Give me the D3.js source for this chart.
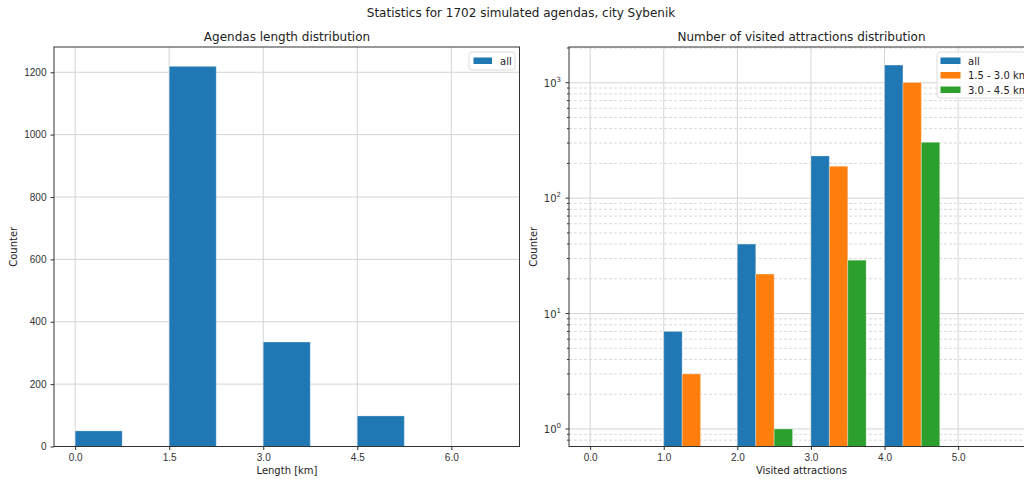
<!DOCTYPE html>
<html>
<head>
<meta charset="utf-8">
<script src="https://cdn.jsdelivr.net/npm/d3@7"></script>
<style>
  body { margin: 0; background: #fff; }
  svg { font-family: 'DejaVu Sans', sans-serif; display: block; }
  .grid line { stroke: #d4d4d4; stroke-width: 1; }
  .minor line { stroke: #d9d9d9; stroke-width: 1; stroke-dasharray: 3, 2; }
  .axis text { fill: #333; font-size: 10px; }
  .axis path, .axis line { stroke: #333; }
</style>
</head>
<body>
<svg id="chart" width="1024" height="479"></svg>
<script>
// left panel: agendas length histogram
var lengthBins = [0, 1.5, 3.0, 4.5, 6.0];
var lengthCounts = [50, 1219, 335, 98, 0];
var lengthTicks = [0, 1.5, 3.0, 4.5, 6.0];
var countTicks = [0, 200, 400, 600, 800, 1000, 1200];

// right panel: visited attractions per group
var visited = [0, 1, 2, 3, 4, 5];
var seriesNames = ['all', '1.5 - 3.0 km', '3.0 - 4.5 km'];
var allCounts = [0, 7, 40, 232, 1423, 0];
var midCounts = [0, 3, 22, 189, 1005, 0];
var longCounts = [0, 0, 1, 29, 305, 0];
var visitedTicks = [0, 1, 2, 3, 4, 5];

var colors = ['#1f77b4', '#ff7f0e', '#2ca02c'];

var svg = d3.select('#chart');

svg
  .append('text')
  .attr('x', 521)
  .attr('y', 17)
  .attr('text-anchor', 'middle')
  .style('font-size', '12px')
  .attr('fill', '#222')
  .text('Statistics for 1702 simulated agendas, city Sybenik');

var yTop = 47,
  yBottom = 446.5;

// ---------- left ----------
var x1 = d3.scaleLinear().domain([-0.3375, 7.0875]).range([54, 519.5]);
var y1 = d3.scaleLinear().domain([0, 1281]).range([yBottom, yTop]);
var binW = 0.75;

var leftG = svg.append('g');

leftG
  .append('g')
  .attr('class', 'grid')
  .selectAll('line')
  .data(lengthTicks)
  .join('line')
  .attr('x1', function (d) { return x1(d); })
  .attr('x2', function (d) { return x1(d); })
  .attr('y1', yTop)
  .attr('y2', yBottom);

leftG
  .append('g')
  .attr('class', 'grid')
  .selectAll('line')
  .data(countTicks)
  .join('line')
  .attr('x1', 54)
  .attr('x2', 519.5)
  .attr('y1', function (d) { return y1(d); })
  .attr('y2', function (d) { return y1(d); });

leftG
  .selectAll('rect.bar')
  .data(lengthBins)
  .join('rect')
  .attr('class', 'bar')
  .attr('x', function (d) { return x1(d); })
  .attr('width', x1(binW) - x1(0))
  .attr('y', function (d, i) { return y1(lengthCounts[i]); })
  .attr('height', function (d, i) { return yBottom - y1(lengthCounts[i]); })
  .attr('fill', colors[0])
  .attr('stroke', 'rgba(255,255,255,0.3)')
  .attr('stroke-width', 1);

leftG
  .append('g')
  .attr('class', 'axis')
  .attr('transform', 'translate(0,' + yBottom + ')')
  .call(d3.axisBottom(x1).tickValues(lengthTicks).tickFormat(d3.format('.1f')).tickSize(3.5).tickPadding(4))
  .call(function (g) { g.select('.domain').remove(); });

leftG
  .append('g')
  .attr('class', 'axis')
  .attr('transform', 'translate(54,0)')
  .call(d3.axisLeft(y1).tickValues(countTicks).tickFormat(d3.format('d')).tickSize(3.5).tickPadding(4))
  .call(function (g) { g.select('.domain').remove(); });

leftG
  .append('rect')
  .attr('x', 54)
  .attr('y', yTop)
  .attr('width', 465.5)
  .attr('height', yBottom - yTop)
  .attr('fill', 'none')
  .attr('stroke', '#333')
  .attr('stroke-width', 1);

leftG
  .append('text')
  .attr('x', 287)
  .attr('y', 41)
  .attr('text-anchor', 'middle')
  .style('font-size', '12px')
  .attr('fill', '#222')
  .text('Agendas length distribution');

leftG
  .append('text')
  .attr('x', 287)
  .attr('y', 474)
  .attr('text-anchor', 'middle')
  .style('font-size', '10px')
  .attr('fill', '#222')
  .text('Length [km]');

leftG
  .append('text')
  .attr('transform', 'translate(17,' + (yTop + yBottom) / 2 + ') rotate(-90)')
  .attr('text-anchor', 'middle')
  .style('font-size', '10px')
  .attr('fill', '#222')
  .text('Counter');

var leg1 = leftG.append('g').attr('transform', 'translate(469,52)');
leg1
  .append('rect')
  .attr('width', 46)
  .attr('height', 18)
  .attr('rx', 3)
  .attr('fill', 'rgba(255,255,255,0.8)')
  .attr('stroke', '#dcdcdc');
leg1
  .append('rect')
  .attr('x', 4.5)
  .attr('y', 5.5)
  .attr('width', 18.5)
  .attr('height', 6.5)
  .attr('fill', colors[0]);
leg1
  .append('text')
  .attr('x', 31)
  .attr('y', 12.5)
  .style('font-size', '10px')
  .attr('fill', '#222')
  .text(seriesNames[0]);

// ---------- right ----------
var x2 = d3.scaleLinear().domain([-0.2875, 6.0375]).range([569, 1034.5]);
var y2 = d3.scaleLog().domain([0.705, 2040]).range([yBottom, yTop]);
var subW = 0.25;
var rightG = svg.append('g');

var minorVals = [];
[0.1, 1, 10, 100, 1000].forEach(function (dec) {
  for (var k = 2; k <= 9; k++) {
    var v = dec * k;
    if (v > 0.705 && v < 2040) minorVals.push(v);
  }
});
var majorVals = [1, 10, 100, 1000];

rightG
  .append('g')
  .attr('class', 'minor')
  .selectAll('line')
  .data(minorVals)
  .join('line')
  .attr('x1', 569)
  .attr('x2', 1034.5)
  .attr('y1', function (d) { return y2(d); })
  .attr('y2', function (d) { return y2(d); });

rightG
  .append('g')
  .attr('class', 'grid')
  .selectAll('line')
  .data(majorVals)
  .join('line')
  .attr('x1', 569)
  .attr('x2', 1034.5)
  .attr('y1', function (d) { return y2(d); })
  .attr('y2', function (d) { return y2(d); });

rightG
  .append('g')
  .attr('class', 'grid')
  .selectAll('line')
  .data(visitedTicks)
  .join('line')
  .attr('x1', function (d) { return x2(d); })
  .attr('x2', function (d) { return x2(d); })
  .attr('y1', yTop)
  .attr('y2', yBottom);

[allCounts, midCounts, longCounts].forEach(function (counts, s) {
  rightG
    .append('g')
    .selectAll('rect')
    .data(visited.filter(function (d, i) { return counts[i] > 0; }))
    .join('rect')
    .attr('x', function (d) { return x2(d + s * subW); })
    .attr('width', x2(subW) - x2(0))
    .attr('y', function (d) { return y2(counts[visited.indexOf(d)]); })
    .attr('height', function (d) { return yBottom - y2(counts[visited.indexOf(d)]); })
    .attr('fill', colors[s])
    .attr('stroke', 'rgba(255,255,255,0.3)')
    .attr('stroke-width', 1);
});

rightG
  .append('g')
  .attr('class', 'axis')
  .attr('transform', 'translate(0,' + yBottom + ')')
  .call(d3.axisBottom(x2).tickValues(visitedTicks).tickFormat(d3.format('.1f')).tickSize(3.5).tickPadding(4))
  .call(function (g) { g.select('.domain').remove(); });

var yAx = rightG
  .append('g')
  .attr('class', 'axis')
  .attr('transform', 'translate(569,0)');

yAx
  .selectAll('line.minor-tick')
  .data(minorVals)
  .join('line')
  .attr('class', 'minor-tick')
  .attr('x1', -2)
  .attr('x2', 0)
  .attr('y1', function (d) { return y2(d); })
  .attr('y2', function (d) { return y2(d); });

yAx
  .selectAll('line.major-tick')
  .data(majorVals)
  .join('line')
  .attr('class', 'major-tick')
  .attr('x1', -3.5)
  .attr('x2', 0)
  .attr('y1', function (d) { return y2(d); })
  .attr('y2', function (d) { return y2(d); });

var lbl = yAx
  .selectAll('text.lbl')
  .data(majorVals)
  .join('text')
  .attr('class', 'lbl')
  .attr('x', -8)
  .attr('y', function (d) { return y2(d) + 4; })
  .attr('text-anchor', 'end');
lbl.append('tspan').text('10');
lbl
  .append('tspan')
  .attr('dy', -5)
  .style('font-size', '7px')
  .text(function (d) { return Math.round(Math.log10(d)); });

rightG
  .append('rect')
  .attr('x', 569)
  .attr('y', yTop)
  .attr('width', 465.5)
  .attr('height', yBottom - yTop)
  .attr('fill', 'none')
  .attr('stroke', '#333')
  .attr('stroke-width', 1);

rightG
  .append('text')
  .attr('x', 801.5)
  .attr('y', 41)
  .attr('text-anchor', 'middle')
  .style('font-size', '12px')
  .attr('fill', '#222')
  .text('Number of visited attractions distribution');

rightG
  .append('text')
  .attr('x', 801.5)
  .attr('y', 474)
  .attr('text-anchor', 'middle')
  .style('font-size', '10px')
  .attr('fill', '#222')
  .text('Visited attractions');

rightG
  .append('text')
  .attr('transform', 'translate(537,' + (yTop + yBottom) / 2 + ') rotate(-90)')
  .attr('text-anchor', 'middle')
  .style('font-size', '10px')
  .attr('fill', '#222')
  .text('Counter');

var leg2 = rightG.append('g').attr('transform', 'translate(937,52)');
leg2
  .append('rect')
  .attr('width', 95)
  .attr('height', 46)
  .attr('rx', 3)
  .attr('fill', 'rgba(255,255,255,0.8)')
  .attr('stroke', '#dcdcdc');
var item = leg2
  .selectAll('g')
  .data(seriesNames)
  .join('g')
  .attr('transform', function (d, i) { return 'translate(0,' + (i * 14.5) + ')'; });
item
  .append('rect')
  .attr('x', 3.5)
  .attr('y', 5.5)
  .attr('width', 20)
  .attr('height', 6.5)
  .attr('fill', function (d, i) { return colors[i]; });
item
  .append('text')
  .attr('x', 31)
  .attr('y', 12.5)
  .style('font-size', '10px')
  .attr('fill', '#222')
  .text(function (d) { return d; });
</script>
</body>
</html>
